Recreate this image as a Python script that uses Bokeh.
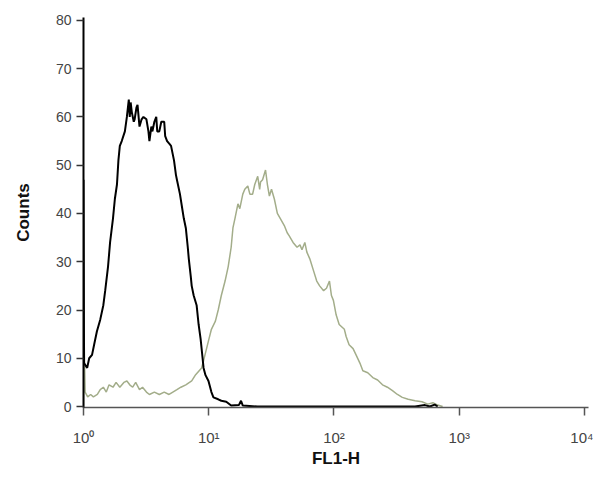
from bokeh.plotting import figure
from bokeh.models import Range1d, FixedTicker
from bokeh.embed import file_html
from bokeh.resources import INLINE

# Black histogram (control)
black_x = [1.0, 1.01, 1.07, 1.11, 1.17, 1.22, 1.28, 1.36, 1.44, 1.49, 1.57, 1.63, 1.72, 1.78,
           1.85, 1.90, 1.95, 2.02, 2.14, 2.22, 2.30, 2.34, 2.38, 2.43, 2.52, 2.56, 2.65, 2.70,
           2.80, 2.91, 3.01, 3.18, 3.30, 3.36, 3.48, 3.55, 3.68, 3.81, 3.88, 4.03, 4.18, 4.41,
           4.49, 4.65, 4.82, 5.00, 5.28, 5.47, 5.57, 5.89, 6.10, 6.32, 6.56, 6.80, 6.93, 7.18,
           7.31, 7.58, 8.00, 8.30, 8.61, 8.93, 9.09, 9.42, 9.95, 10.5, 10.9, 11.9, 12.6, 13.8,
           15.1, 17.4, 18.1, 18.7, 24.5, 50.7, 125, 309, 444, 532, 582, 637, 673]
black_y = [47, 9, 8, 10, 10.7, 13, 15.6, 18, 21, 24, 29, 34, 39, 43,
           46, 51, 54, 55, 57, 60, 63.6, 60, 63, 61, 59, 59.5, 62, 62.5,
           58, 59.5, 60, 59.5, 57, 55, 58, 57, 59, 60, 57, 57, 59, 59,
           56, 55, 54.5, 54, 51, 48, 47, 44, 41.5, 39, 37, 33, 30.6, 27,
           25, 23, 21, 17, 14, 10, 8, 6.5, 5.3, 3, 1.9, 1.5, 1.2, 1.0,
           0.2, 0.3, 1.2, 0.2, 0, 0, 0, 0, 0, 0.3, 0, 0.4, 0]

# Green histogram (stained)
green_x = [1.0, 1.01, 1.03, 1.08, 1.14, 1.20, 1.29, 1.36, 1.44, 1.52, 1.60, 1.72, 1.82, 1.95,
           2.10, 2.22, 2.34, 2.47, 2.61, 2.80, 2.96, 3.18, 3.36, 3.68, 4.03, 4.41, 4.82, 5.09,
           5.57, 5.99, 6.56, 7.31, 7.86, 8.77, 9.09, 9.95, 10.5, 11.3, 11.9, 12.6, 13.5, 14.3,
           15.1, 15.6, 16.2, 17.1, 17.7, 18.7, 19.4, 20.5, 21.3, 22.4, 23.3, 24.6, 25.5, 25.9,
           26.9, 28.4, 29.4, 30.5, 31.7, 33.4, 35.3, 37.2, 40.1, 42.3, 43.8, 47.1, 50.7, 53.5,
           55.5, 58.5, 60.7, 64.1, 68.9, 72.8, 76.8, 82.6, 87.1, 92.0, 95.4, 98.9, 104, 110,
           121, 125, 132, 142, 150, 161, 170, 186, 204, 223, 244, 267, 293, 321, 351, 391,
           444, 504, 561, 615, 673, 737]
green_y = [0, 15, 3, 2, 2.5, 2, 2.5, 3.5, 4, 3, 4.5, 4, 5, 4,
           5, 5.3, 4.5, 4, 5, 3.5, 4, 3, 2.5, 3, 2.5, 3, 2.5, 2.9,
           3.5, 4, 4.5, 5.3, 6.6, 8, 9.5, 13.6, 16, 17.7, 20, 23, 26, 29,
           33, 37, 39, 42, 41, 44, 45, 45.7, 44, 44, 46, 47.7, 45, 46.5,
           47, 49, 46, 43.6, 45, 43, 40, 39, 37.5, 36, 35.4, 34, 33, 33.5,
           32.5, 34, 32, 30.6, 28, 26, 25, 24, 24.5, 26, 23, 22, 19, 17,
           16, 14.5, 12.8, 12, 10.7, 9, 7.4, 7, 6, 5.5, 4.5, 4, 3.3, 2.5, 1.9, 1.5,
           1.2, 1.0, 0.5, 0.8, 0.3, 0]

x_ticks = [1, 10, 100, 1000, 10000]
x_tick_labels = ["10\u2070", "10\u00b9", "10\u00b2", "10\u00b3", "10\u2074"]
y_ticks = [0, 10, 20, 30, 40, 50, 60, 70, 80]

p = figure(width=593, height=470, x_axis_type="log", output_backend="svg",
           toolbar_location=None,
           x_range=Range1d(1.0, 10 ** 4.032), y_range=Range1d(-0.2, 80.6),
           min_border_left=83, min_border_right=5, min_border_top=17, min_border_bottom=60)

p.line(green_x, green_y, line_color="#a3ad8a", line_width=1.5)
p.line(black_x, black_y, line_color="#000000", line_width=2)

p.outline_line_color = None
p.xgrid.grid_line_color = None
p.ygrid.grid_line_color = None
p.background_fill_color = "white"
p.border_fill_color = "white"

xa = p.xaxis[0]
xa.ticker = FixedTicker(ticks=x_ticks)
xa.major_label_overrides = {t: l for t, l in zip(x_ticks, x_tick_labels)}
xa.axis_line_color = "#555555"
xa.axis_line_width = 1.5
xa.major_tick_line_color = "#555555"
xa.major_tick_line_width = 1.5
xa.major_tick_out = 8
xa.major_tick_in = 0
xa.minor_tick_line_color = None
xa.major_label_text_font = "Liberation Sans"
xa.major_label_text_font_size = "15px"
xa.major_label_text_color = "#444444"
xa.major_label_standoff = 13
xa.axis_label = "FL1-H"
xa.axis_label_text_font = "Liberation Sans"
xa.axis_label_text_font_style = "bold"
xa.axis_label_text_font_size = "17px"
xa.axis_label_text_color = "#111111"
xa.axis_label_standoff = 0

ya = p.yaxis[0]
ya.ticker = FixedTicker(ticks=y_ticks)
ya.axis_line_color = "#000000"
ya.axis_line_width = 2
ya.major_tick_line_color = "#333333"
ya.major_tick_line_width = 1.5
ya.major_tick_out = 7
ya.major_tick_in = 0
ya.minor_tick_line_color = None
ya.major_label_text_font = "Liberation Sans"
ya.major_label_text_font_size = "14px"
ya.major_label_text_color = "#444444"
ya.major_label_standoff = 5
ya.axis_label = "Counts"
ya.axis_label_text_font = "Liberation Sans"
ya.axis_label_text_font_style = "bold"
ya.axis_label_text_font_size = "17px"
ya.axis_label_text_color = "#111111"
ya.axis_label_standoff = 20

open("out.html", "w").write(file_html(p, INLINE))
